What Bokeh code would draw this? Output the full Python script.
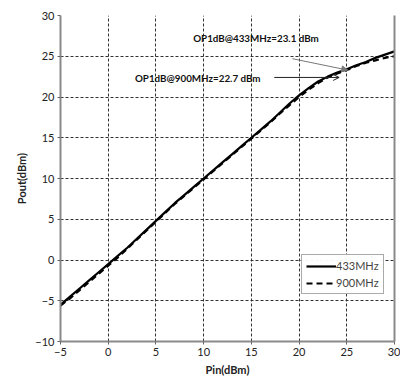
from bokeh.plotting import figure
from bokeh.models import Arrow, OpenHead, NormalHead, Label, Legend, LegendItem, FixedTicker, Range1d, LinearAxis
from bokeh.embed import file_html
from bokeh.resources import INLINE

pin = [-5, -4, -3, -2, -1, 0, 1, 2, 3, 4, 5, 6, 7, 8, 9, 10, 11, 12, 13, 14, 15,
       16, 17, 18, 19, 20, 21, 22, 23, 24, 25, 26, 27, 28, 29, 30]
pout_433 = [-5.5, -4.5, -3.5, -2.5, -1.5, -0.5, 0.5, 1.5, 2.6, 3.7, 4.8, 5.9, 7.0, 8.0, 9.0, 10.0,
            11.0, 12.0, 13.0, 14.0, 15.0, 16.0, 17.0, 18.1, 19.2, 20.2, 21.1, 21.9, 22.5, 23.0,
            23.4, 23.9, 24.3, 24.8, 25.2, 25.6]
pout_900 = [-5.6, -4.7, -3.7, -2.7, -1.7, -0.7, 0.3, 1.4, 2.5, 3.6, 4.7, 5.8, 6.9, 7.9, 8.9, 9.9,
            10.9, 11.9, 12.9, 13.9, 14.9, 15.9, 16.9, 18.0, 19.0, 20.0, 20.9, 21.7, 22.4, 22.9,
            23.3, 23.8, 24.2, 24.5, 24.8, 25.0]
x_ticks = [-5, 0, 5, 10, 15, 20, 25, 30]
y_ticks = [-10, -5, 0, 5, 10, 15, 20, 25, 30]
labels = ["433MHz", "900MHz"]
ann_433 = "OP1dB@433MHz=23.1  dBm"
ann_900 = "OP1dB@900MHz=22.7  dBm"

FONT = "Lato"

p = figure(width=400, height=378, output_backend="svg", toolbar_location=None,
           x_range=Range1d(-5, 30), y_range=Range1d(-10, 30),
           min_border_left=60, min_border_right=6, min_border_top=15, min_border_bottom=34)
p.outline_line_color = None
p.background_fill_color = "white"

r1 = p.line(pin, pout_433, line_color="black", line_width=2.2)
r2 = p.line(pin, pout_900, line_color="black", line_width=2.2, line_dash="6 4")

for ax, ticks in ((p.xaxis, x_ticks), (p.yaxis, y_ticks)):
    ax.ticker = FixedTicker(ticks=ticks)
    ax.axis_line_color = "#8a8a8a"
    ax.axis_line_width = 2
    ax.major_tick_line_color = "#666666"
    ax.major_tick_out = 3
    ax.major_tick_in = 0
    ax.minor_tick_line_color = None
    ax.major_label_text_font = FONT
    ax.major_label_text_font_size = "11px"
    ax.major_label_text_color = "#222222"
    ax.axis_label_text_font = FONT
    ax.axis_label_text_font_size = "11px"
    ax.axis_label_text_font_style = "bold"
    ax.axis_label_text_color = "#222222"
    ax.major_label_standoff = 3
    ax.axis_label_standoff = 4

p.xaxis.axis_label = "Pin(dBm)"
p.yaxis.axis_label = "Pout(dBm)"

for g in (p.xgrid, p.ygrid):
    g.grid_line_color = "#333333"
    g.grid_line_dash = "3 2"
    g.grid_line_width = 1

rax = LinearAxis(ticker=FixedTicker(ticks=[]), axis_line_color="#8a8a8a", axis_line_width=2,
                 major_label_text_font_size="0px", major_tick_line_color=None, minor_tick_line_color=None)
p.add_layout(rax, "right")

p.add_layout(Arrow(end=NormalHead(size=6, fill_color="#777777", line_color="#777777"),
                   x_start=19.3, y_start=24.7, x_end=25.1, y_end=23.3,
                   line_color="#777777", line_width=1))
p.add_layout(Arrow(end=OpenHead(size=6, line_color="#222222", line_width=1),
                   x_start=17.4, y_start=22.4, x_end=24.2, y_end=22.4,
                   line_color="#222222", line_width=1))

p.add_layout(Label(x=8.9, y=27.3, text=ann_433, text_font=FONT, text_font_size="9.8px",
                   text_font_style="bold", text_color="#111111", text_baseline="middle"))
p.add_layout(Label(x=2.8, y=22.3, text=ann_900, text_font=FONT, text_font_size="9.8px",
                   text_font_style="bold", text_color="#111111", text_baseline="middle"))

legend = Legend(items=[LegendItem(label=labels[0], renderers=[r1]),
                       LegendItem(label=labels[1], renderers=[r2])],
                location=(241, 47), glyph_width=30, glyph_height=12,
                label_text_font=FONT, label_text_font_size="11px", label_standoff=0,
                border_line_color="#555555", border_line_width=1,
                padding=4, spacing=4, margin=0, label_height=12)
p.add_layout(legend, "center")

open("out.html", "w").write(file_html(p, INLINE))
